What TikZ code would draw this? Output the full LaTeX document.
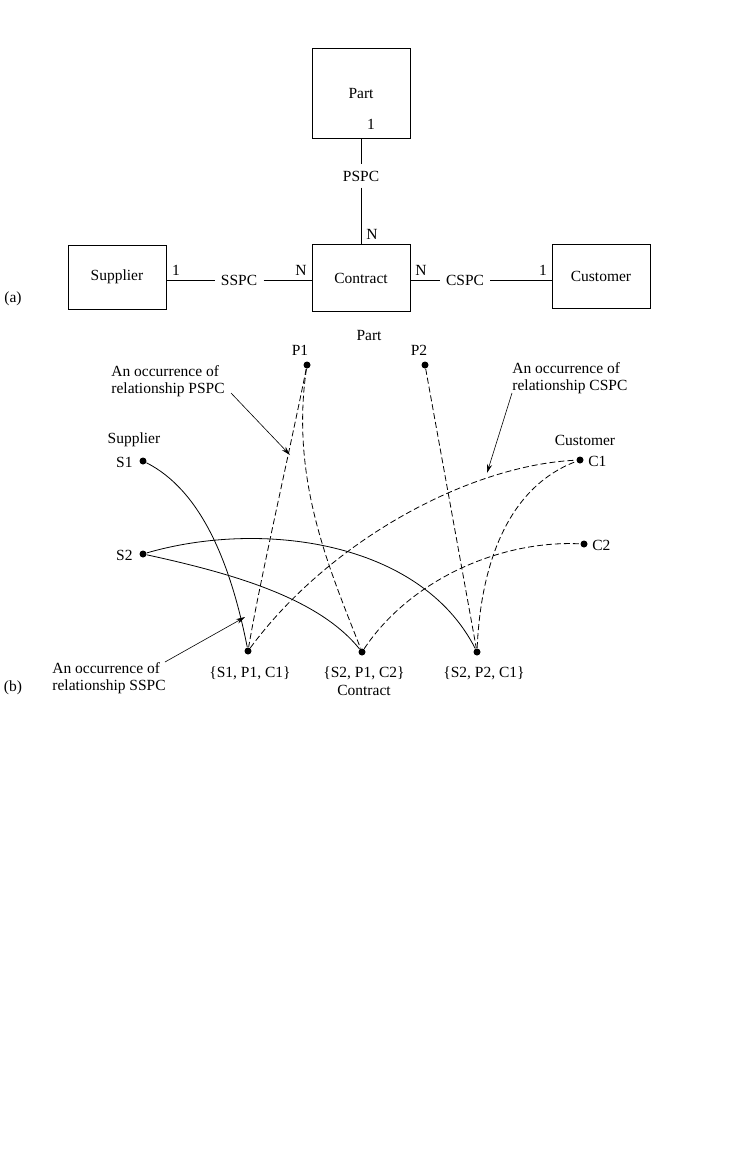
\documentclass[tikz,border=0pt]{standalone}
\usepackage{fontspec}
\setmainfont{Liberation Serif}
\usetikzlibrary{arrows.meta}
\begin{document}
\begin{tikzpicture}[x=1pt,y=-1pt,line width=0.8pt,
  box/.style={draw,minimum width=98pt,minimum height=64pt,inner sep=0},
  lab/.style={inner sep=1pt},
  rel/.style={inner sep=6pt},
  dot/.style={circle,fill,inner sep=0,minimum size=7pt},
  dsh/.style={dashed,dash pattern=on 6pt off 3pt},
  arr/.style={-{Stealth[length=9pt,width=5pt]}},
  every node/.style={font=\fontsize{15.5}{17}\selectfont}]
\useasboundingbox (0,0) rectangle (736,1173);
% (a)
\node[box,minimum height=90pt] (part) at (361,93) {Part};
\node[box] (sup) at (117,277) {Supplier};
\node[box,minimum height=67pt] (con) at (361,278) {Contract};
\node[box] (cus) at (601,276) {Customer};
\node[rel] (pspc) at (361,176) {PSPC};
\node[rel] (sspc) at (239,280) {SSPC};
\node[rel] (cspc) at (465,280) {CSPC};
\draw (part) -- (pspc) -- (con);
\draw (sup.east |- sspc) -- (sspc) -- (con.west |- sspc);
\draw (con.east |- cspc) -- (cspc) -- (cus.west |- cspc);
\node[lab] at (371,124) {1};
\node[lab] at (372,234) {N};
\node[lab] at (176,270) {1};
\node[lab] at (301,270) {N};
\node[lab] at (421,270) {N};
\node[lab] at (543,270) {1};
\node[lab] at (13,299) {(a)};
% (b)
\node[lab] at (369,335) {Part};
\node[dot] (p1) at (307,365) {}; \node[lab] at (300,350) {P1};
\node[dot] (p2) at (425,365) {}; \node[lab] at (419,350) {P2};
\node[lab] at (134,440) {Supplier};
\node[lab] at (585,440) {Customer};
\node[dot] (s1) at (143,461) {}; \node[lab,anchor=east] at (134,462) {S1};
\node[dot] (s2) at (143,554) {}; \node[lab,anchor=east] at (134,555) {S2};
\node[dot] (c1) at (580,460) {}; \node[lab,anchor=west] at (587,461) {C1};
\node[dot] (c2) at (584,544) {}; \node[lab,anchor=west] at (591,545) {C2};
\node[dot] (k1) at (248,651) {}; \node[lab] at (250,673) {\{S1, P1, C1\}};
\node[dot] (k2) at (362,652) {}; \node[lab] at (364,673) {\{S2, P1, C2\}};
\node[dot] (k3) at (477,652) {}; \node[lab] at (484,673) {\{S2, P2, C1\}};
\node[lab] at (364,690) {Contract};
\node[lab] at (13,688) {(b)};
% solid
\draw (s1) .. controls (200,490) and (230,560) .. (k1);
\draw (s2) .. controls (260,520) and (420,540) .. (k3);
\draw (s2) .. controls (240,575) and (320,600) .. (k2);
% dashed
\draw[dsh] (p1) .. controls (290,450) and (260,580) .. (k1);
\draw[dsh] (p1) .. controls (290,480) and (330,570) .. (k2);
\draw[dsh] (p2) -- (k3);
\draw[dsh] (k1) .. controls (330,540) and (470,465) .. (c1);
\draw[dsh] (k2) .. controls (410,580) and (500,540) .. (c2);
\draw[dsh] (k3) .. controls (480,580) and (500,490) .. (c1);
% annotations
\node[lab,align=left,anchor=north west] (apspc) at (110,364) {An occurrence of\\relationship PSPC};
\node[lab,align=left,anchor=north west] (acspc) at (511,361) {An occurrence of\\relationship CSPC};
\node[lab,align=left,anchor=north west] (asspc) at (51,661) {An occurrence of\\relationship SSPC};
\coordinate (f1) at (231,393);
\coordinate (f2) at (512,393);
\coordinate (f3) at (165,662);
\coordinate (t1) at (290,455);
\coordinate (t2) at (487,473);
\coordinate (t3) at (245,617);
\draw[arr,line width=0.6pt] (f1) -- (t1);
\draw[arr,line width=0.6pt] (f2) -- (t2);
\draw[arr,line width=0.6pt] (f3) -- (t3);
\end{tikzpicture}
\end{document}
